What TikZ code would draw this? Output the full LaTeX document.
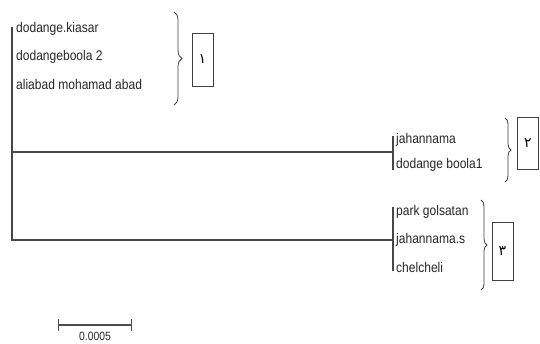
\documentclass[tikz,border=0pt]{standalone}
\usepackage{fontspec}
\setmainfont[FakeStretch=0.86]{Liberation Sans}
\newfontfamily\arabicfont{DejaVu Sans}
\usetikzlibrary{decorations.pathreplacing}
\begin{document}
\begin{tikzpicture}[x=1pt,y=-1pt,
  treeline/.style={draw=black!72,line width=1.8pt},
  leaf/.style={anchor=west,inner sep=0pt,font=\fontsize{14}{15}\selectfont,text=black!85},
  bracestyle/.style={draw=black!75,line width=0.8pt,decorate,decoration={brace,amplitude=6pt}},
  groupbox/.style={draw=black!75,line width=0.8pt,minimum width=21pt,inner sep=0pt,font=\arabicfont\fontsize{14}{15}\selectfont}]
\useasboundingbox (0,0) rectangle (540,344);
% leaves group 1
\node[leaf] (l1) at (16,29) {dodange.kiasar};
\node[leaf] (l2) at (16,57) {dodangeboola 2};
\node[leaf] (l3) at (16,84) {aliabad mohamad abad};
% root
\coordinate (rtop) at (12,27);
\coordinate (rbot) at (12,241);
\draw[treeline] (rtop) -- (rbot);
% clade 2
\coordinate (c2) at (393,152);
\coordinate (c2t) at (393,136);
\coordinate (c2b) at (393,170);
\draw[treeline] (12,152) -- (c2);
\draw[treeline] (c2t) -- (c2b);
\node[leaf] (l4) at (396,140) {jahannama};
\node[leaf] (l5) at (396,165) {dodange boola1};
% clade 3
\coordinate (c3) at (393,240);
\coordinate (c3t) at (393,207);
\coordinate (c3b) at (393,271);
\draw[treeline] (12,240) -- (c3);
\draw[treeline] (c3t) -- (c3b);
\node[leaf] (l6) at (396,212) {park golsatan};
\node[leaf] (l7) at (396,240) {jahannama.s};
\node[leaf] (l8) at (396,267) {chelcheli};
% braces and boxes
\coordinate (b1t) at (174,12);
\coordinate (b1b) at (174,105);
\draw[bracestyle,decoration={amplitude=8pt}] (b1t) -- (b1b);
\node[groupbox,minimum height=53pt] (g1) at (202.5,59.5) {١};
\coordinate (b2t) at (505,118);
\coordinate (b2b) at (505,182);
\draw[bracestyle] (b2t) -- (b2b);
\node[groupbox,minimum height=52pt] (g2) at (528,143.5) {٢};
\coordinate (b3t) at (481,200);
\coordinate (b3b) at (481,290);
\draw[bracestyle] (b3t) -- (b3b);
\node[groupbox,minimum height=58pt] (g3) at (502.5,251) {٣};
% scale bar
\coordinate (s1) at (58,325);
\coordinate (s2) at (131,325);
\draw[draw=black!70,line width=1.3pt] (s1) -- (s2);
\draw[draw=black!70,line width=1pt] (58,319) -- (58,331) (131,319) -- (131,331);
\node[leaf,anchor=center,font=\fontsize{12}{13}\selectfont] (sl) at (95,336.5) {0.0005};
\end{tikzpicture}
\end{document}
